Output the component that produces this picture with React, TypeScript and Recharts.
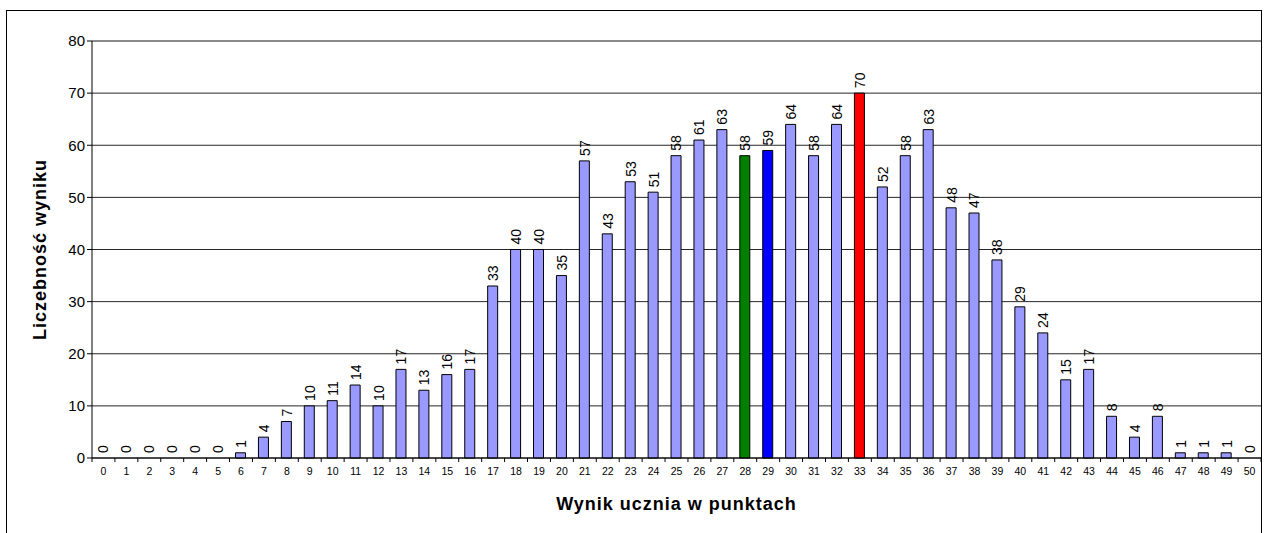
import { ComposedChart, Bar, Line, XAxis, YAxis, CartesianGrid, Cell, LabelList, ReferenceLine } from 'recharts';

const scores = Array.from({ length: 51 }, (_, i) => String(i));
const counts = [
  0, 0, 0, 0, 0, 0, 1, 4, 7, 10, 11, 14, 10, 17, 13, 16, 17, 33, 40, 40, 35,
  57, 43, 53, 51, 58, 61, 63, 58, 59, 64, 58, 64, 70, 52, 58, 63, 48, 47, 38,
  29, 24, 15, 17, 8, 4, 8, 1, 1, 1, 0,
];
const yTicks = [0, 10, 20, 30, 40, 50, 60, 70, 80];
const highlight: Record<string, string> = { '28': '#008000', '29': '#0000FF', '33': '#FF0000' };

const data = scores.map((s, i) => ({ score: s, count: counts[i] }));

const W = 1265;
const H = 533;
const M = { top: 41, right: 4, bottom: 45, left: 42 };
const Y_W = 50;
const band = (W - M.left - M.right - Y_W) / scores.length;
const FONT = '"Liberation Sans", Arial, sans-serif';

function XTick(props: any) {
  const { x, y, payload, index } = props;
  const last = index === scores.length - 1;
  return (
    <g>
      <line x1={x - band / 2} x2={x - band / 2} y1={y - 8} y2={y - 4} stroke="#000" />
      {last && <line x1={x + band / 2} x2={x + band / 2} y1={y - 8} y2={y - 4} stroke="#000" />}
      <text x={x} y={y + 9} textAnchor="middle" fontSize={10.5} fill="#000" fontFamily={FONT}>
        {payload.value}
      </text>
    </g>
  );
}

// labels hang off an invisible line so that zero values get one too
function ValueLabel(props: any) {
  const { x, y, value } = props;
  const cx = x;
  const cy = y - 5;
  return (
    <text
      x={cx}
      y={cy}
      transform={`rotate(-90 ${cx} ${cy})`}
      textAnchor="start"
      dominantBaseline="central"
      fontSize={14}
      fill="#000"
      fontFamily={FONT}
    >
      {value}
    </text>
  );
}

export default function App() {
  return (
    <div style={{ position: 'absolute', left: 0, top: 0, width: W, height: H, background: '#fff', overflow: 'hidden' }}>
      <svg width={W} height={H} style={{ position: 'absolute', left: 0, top: 0 }}>
        <rect x={6.5} y={10.5} width={1255} height={600} fill="none" stroke="#000" strokeWidth={1} />
      </svg>
      <div style={{ position: 'absolute', left: 0, top: 0 }}>
        <ComposedChart width={W} height={H} data={data} margin={M} barSize={10}>
          <CartesianGrid vertical={false} stroke="#000" strokeOpacity={0.85} />
          <ReferenceLine y={80} stroke="#808080" />
          <XAxis
            dataKey="score"
            interval={0}
            tickLine={false}
            axisLine={{ stroke: '#000' }}
            tick={<XTick />}
            height={30}
            label={{ value: 'Wynik ucznia w punktach', position: 'insideBottom', offset: -22, fontSize: 18, fontWeight: 'bold', fill: '#000', fontFamily: FONT, letterSpacing: 1 }}
          />
          <YAxis
            domain={[0, 80]}
            ticks={yTicks}
            width={Y_W}
            interval={0}
            tickSize={5}
            tickLine={{ stroke: '#000' }}
            axisLine={{ stroke: '#000' }}
            tick={{ fontSize: 15, fill: '#000', fontFamily: FONT }}
            label={{ value: 'Liczebność wyniku', angle: -90, position: 'insideLeft', offset: -2, fontSize: 18, fontWeight: 'bold', fill: '#000', fontFamily: FONT, letterSpacing: 1, style: { textAnchor: 'middle' } }}
          />
          <Bar dataKey="count" stroke="#000" strokeWidth={1} isAnimationActive={false}>
            {data.map((d) => (
              <Cell key={d.score} fill={highlight[d.score] ?? '#9999FF'} />
            ))}
          </Bar>
          <Line dataKey="count" stroke="none" dot={false} activeDot={false} isAnimationActive={false}>
            <LabelList dataKey="count" content={<ValueLabel />} />
          </Line>
        </ComposedChart>
      </div>
    </div>
  );
}
